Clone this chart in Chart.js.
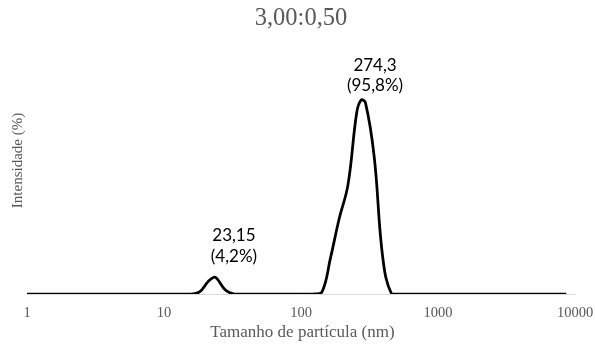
<!DOCTYPE html>
<html>
<head>
<meta charset="utf-8">
<script src="https://cdn.jsdelivr.net/npm/chart.js@4/dist/chart.umd.min.js"></script>
<style>
  html, body { margin: 0; padding: 0; background: #ffffff; }
  canvas { display: block; }
</style>
</head>
<body>
<canvas id="chart" width="595" height="356"></canvas>
<script>
// Texts
const chartTitle = '3,00:0,50';
const xAxisTitle = 'Tamanho de partícula (nm)';
const yAxisTitle = 'Intensidade (%)';

// Log-axis ticks shown on the size axis
const tickValues = [1, 10, 100, 1000, 10000];

// Size classes (nm) of the distribution
const sizes = [
  0.9649, 1.117, 1.294, 1.499, 1.736, 2.010, 2.328, 2.696, 3.122, 3.615,
  4.187, 4.849, 5.615, 6.503, 7.531, 8.721, 10.10, 11.70, 13.54,
  15.69, 18.17, 21.04, 23.15, 24.36, 28.21, 32.67,
  37.84, 43.82, 50.75, 58.77, 68.06, 78.82, 91.28, 105.7, 122.4,
  141.8, 164.2, 190.1, 220.2, 255.0, 274.3, 295.3, 342.0, 396.1,
  458.7, 531.2, 615.1, 712.4, 825.0, 955.4, 1106, 1281, 1484, 1718,
  1990, 2305, 2669, 3091, 3580, 4145, 4801, 5560, 6439, 7456, 8635
];

// Intensity (%) for each size class
const intensity = [
  0, 0, 0, 0, 0, 0, 0, 0, 0, 0,
  0, 0, 0, 0, 0, 0, 0, 0, 0,
  0, 0.12, 0.75, 1.0, 0.92, 0.22, 0,
  0, 0, 0, 0, 0, 0, 0, 0, 0,
  0.1, 2.15, 4.5, 6.5, 10.8, 11.55, 11.4, 8.2, 2.1,
  0, 0, 0, 0, 0, 0, 0, 0, 0, 0,
  0, 0, 0, 0, 0, 0, 0, 0, 0, 0, 0
];

// Peak positions (nm) and their share of the intensity (%)
const peakSizes = [274.3, 23.15];
const peakShares = [95.8, 4.2];

const points = sizes.map((s, i) => ({ x: s, y: intensity[i] }));
const fmt = v => String(v).replace('.', ',');

// Placement of the two peak annotations relative to their peak point
const peakLabelOffsets = [
  { dx: 14, dy1: -35, dy2: -14.5 },
  { dx: 20, dy1: -41.5, dy2: -21 }
];

const serif = '"Liberation Serif", "Times New Roman", serif';
const grey = '#595959';

const annotations = {
  id: 'annotations',
  afterDraw(chart) {
    const { ctx, scales: { x, y } } = chart;

    // vertical axis title
    ctx.save();
    ctx.fillStyle = grey;
    ctx.font = '15px ' + serif;
    ctx.textAlign = 'center';
    ctx.textBaseline = 'middle';
    ctx.translate(18, 160.5);
    ctx.rotate(-Math.PI / 2);
    ctx.fillText(yAxisTitle, 0, 0);
    ctx.restore();

    // horizontal axis title
    ctx.save();
    ctx.fillStyle = grey;
    ctx.font = '17px ' + serif;
    ctx.textAlign = 'center';
    ctx.textBaseline = 'middle';
    ctx.fillText(xAxisTitle, 302.5, 332.5);
    ctx.restore();

    // peak labels
    ctx.save();
    ctx.fillStyle = '#000000';
    ctx.font = '17px Lato, "Noto Sans", sans-serif';
    ctx.textAlign = 'center';
    ctx.textBaseline = 'middle';
    peakSizes.forEach((s, i) => {
      const idx = sizes.indexOf(s);
      const px = x.getPixelForValue(s);
      const py = y.getPixelForValue(intensity[idx]);
      const o = peakLabelOffsets[i];
      ctx.fillText(fmt(s), px + o.dx, py + o.dy1);
      ctx.fillText('(' + fmt(peakShares[i]) + '%)', px + o.dx, py + o.dy2);
    });
    ctx.restore();
  }
};

new Chart(document.getElementById('chart'), {
  type: 'line',
  data: {
    datasets: [{
      data: points,
      borderColor: '#000000',
      borderWidth: 2.75,
      pointRadius: 0,
      pointHoverRadius: 0,
      tension: 0.4,
      fill: false
    }]
  },
  plugins: [annotations],
  options: {
    responsive: false,
    animation: false,
    events: [],
    layout: { padding: { left: 27, right: 20, top: 0, bottom: 23 } },
    plugins: {
      legend: { display: false },
      tooltip: { enabled: false },
      title: {
        display: true,
        text: chartTitle,
        color: grey,
        font: { family: serif, size: 24.5, weight: 'normal', lineHeight: 1.2 },
        padding: { top: 4.3, bottom: 25.3 }
      }
    },
    scales: {
      x: {
        type: 'logarithmic',
        min: 1,
        max: 10000,
        afterBuildTicks(scale) {
          scale.ticks = tickValues.map(v => ({ value: v }));
        },
        grid: { display: false, drawTicks: false },
        border: { display: true, color: '#d9d9d9', width: 1 },
        ticks: {
          color: grey,
          font: { family: serif, size: 14.5, lineHeight: 39 / 14.5 },
          padding: 0,
          maxRotation: 0,
          autoSkip: false,
          callback: v => String(v)
        }
      },
      y: {
        display: false,
        min: 0,
        max: 14
      }
    }
  }
});
</script>
</body>
</html>
